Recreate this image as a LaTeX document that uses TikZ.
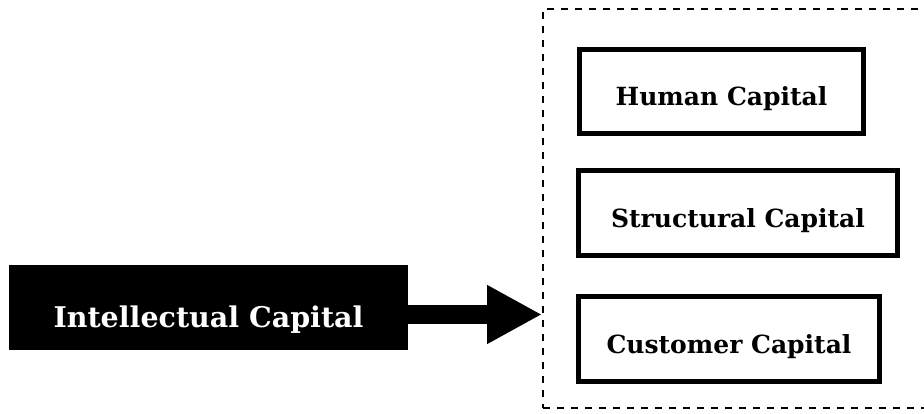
\documentclass[tikz,border=0pt]{standalone}
\usepackage{fontspec}
\setmainfont{DejaVu Serif}
\usetikzlibrary{arrows.meta}
\begin{document}
\begin{tikzpicture}[x=1pt,y=1pt,
  capbox/.style={draw=black, line width=5pt, fill=white, inner sep=0pt,
    font=\fontsize{25}{29}\selectfont\bfseries, text height=29pt, text depth=0pt},
  icbox/.style={fill=black, text=white, inner sep=0pt,
    font=\fontsize{28.5}{32}\selectfont\bfseries, text height=39pt, text depth=0pt},
  container/.style={draw=black, line width=2pt, dash pattern=on 7pt off 7pt, inner sep=0pt}]
\useasboundingbox (0,0) rectangle (924,413);
\node[icbox, minimum width=399pt, minimum height=85pt] (ic) at (208.5,105.5) {Intellectual Capital};
\node[container, minimum width=387pt, minimum height=399pt] (grp) at (736.5,204.5) {};
\node[capbox, minimum width=284pt, minimum height=84pt] (human) at (721.5,321.5) {Human Capital};
\node[capbox, minimum width=319pt, minimum height=85pt] (struct) at (738,200) {Structural Capital};
\node[capbox, minimum width=301pt, minimum height=85pt] (cust) at (729,74) {Customer Capital};
\draw[line width=19pt, -{Triangle[length=55pt,width=55pt]}] (ic.east |- 0,98.5) -- (grp.west |- 0,98.5);
\end{tikzpicture}
\end{document}
